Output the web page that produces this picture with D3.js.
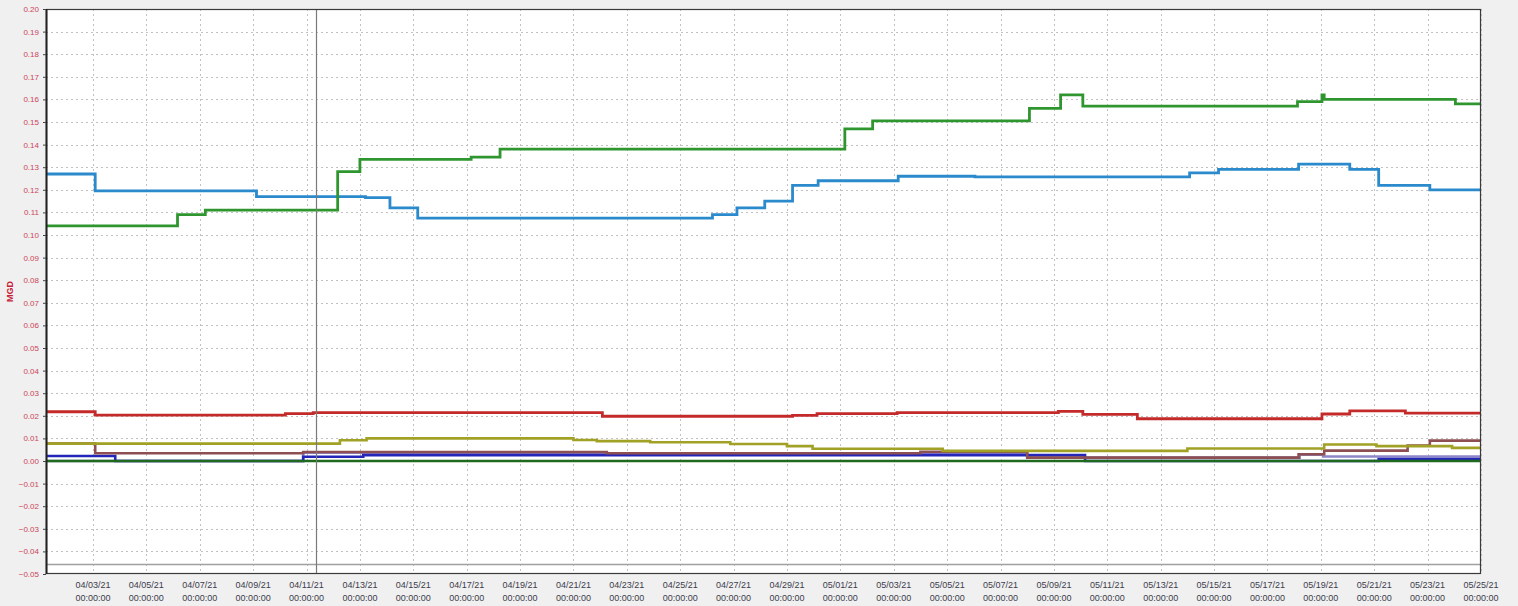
<!DOCTYPE html>
<html>
<head>
<meta charset="utf-8">
<script src="https://cdn.jsdelivr.net/npm/d3@7"></script>
<style>
  html, body { margin: 0; padding: 0; background: #f0f0f0; }
  svg { display: block; font-family: "Liberation Sans", Arial, sans-serif; }
</style>
</head>
<body>
<svg id="chart" width="1518" height="606"></svg>
<script>
// time range shown and the two-day tick labels
var seriesStart = "04/01 05:45";
var seriesEnd = "05/25 00:00";
var tickDates = ["04/03", "04/05", "04/07", "04/09", "04/11", "04/13", "04/15", "04/17",
  "04/19", "04/21", "04/23", "04/25", "04/27", "04/29", "05/01", "05/03", "05/05",
  "05/07", "05/09", "05/11", "05/13", "05/15", "05/17", "05/19", "05/21", "05/23", "05/25"];
var yTicks = d3.range(-5, 21).map(function (d) { return d / 100; });
var cursorDate = "04/11 08:30";
var refLineValue = -0.0455;

// step series: [change time, new value]
var greenTop = [
  ["04/01 05:45", 0.104], ["04/06 04:00", 0.109], ["04/07 05:00", 0.111], ["04/12 04:00", 0.128],
  ["04/13 00:00", 0.1335], ["04/17 04:00", 0.1345], ["04/18 06:00", 0.138], ["05/01 04:00", 0.147],
  ["05/02 05:00", 0.1505], ["05/08 02:00", 0.156], ["05/09 06:00", 0.162], ["05/10 02:00", 0.157],
  ["05/18 03:00", 0.159], ["05/19 01:00", 0.162], ["05/19 03:00", 0.160], ["05/24 01:00", 0.158]
];
var blueFlow = [
  ["04/01 05:45", 0.127], ["04/03 02:00", 0.1195], ["04/09 03:00", 0.117], ["04/13 05:00", 0.1165],
  ["04/14 03:00", 0.112], ["04/15 04:00", 0.1075], ["04/26 05:00", 0.109], ["04/27 03:00", 0.112],
  ["04/28 04:00", 0.115], ["04/29 05:00", 0.122], ["04/30 04:00", 0.124], ["05/03 04:00", 0.126],
  ["05/06 01:00", 0.1257], ["05/14 02:00", 0.1275], ["05/15 04:00", 0.129], ["05/18 04:00", 0.1314],
  ["05/20 02:00", 0.129], ["05/21 04:00", 0.122], ["05/23 02:00", 0.120]
];
var redFlow = [
  ["04/01 05:45", 0.0218], ["04/03 02:00", 0.0203], ["04/10 05:00", 0.0210], ["04/11 06:00", 0.0214],
  ["04/22 02:00", 0.0198], ["04/29 05:00", 0.0202], ["04/30 03:00", 0.0210], ["05/03 03:00", 0.0214],
  ["05/09 04:00", 0.0220], ["05/10 02:00", 0.0206], ["05/12 03:00", 0.0187], ["05/19 01:00", 0.0208],
  ["05/20 02:00", 0.0222], ["05/22 04:00", 0.0212]
];
var oliveFlow = [
  ["04/01 05:45", 0.0077], ["04/12 06:00", 0.0092], ["04/13 06:00", 0.0100], ["04/21 00:00", 0.0093],
  ["04/21 21:00", 0.0088], ["04/23 21:00", 0.0083], ["04/26 21:00", 0.0075], ["04/29 00:00", 0.0066],
  ["04/29 23:00", 0.0054], ["05/04 20:00", 0.0045], ["05/14 00:00", 0.0055], ["05/19 03:00", 0.0073],
  ["05/21 02:00", 0.0066], ["05/23 22:00", 0.0058]
];
var brownFlow = [
  ["04/01 05:45", 0.0077], ["04/03 02:00", 0.0034], ["04/10 21:00", 0.0040], ["04/22 06:00", 0.0034],
  ["05/04 00:00", 0.0041], ["05/08 00:00", 0.0015], ["05/18 04:00", 0.0030], ["05/19 03:00", 0.0046],
  ["05/22 06:00", 0.0068], ["05/23 02:00", 0.0090]
];
var purpleFlow = [
  ["04/01 05:45", 0.0], ["04/10 21:00", 0.0037], ["04/22 06:00", 0.0030], ["05/04 00:00", 0.0035],
  ["05/08 00:00", 0.0015], ["05/18 05:00", 0.0028], ["05/19 02:00", 0.0020]
];
var navyFlow = [
  ["04/01 05:45", 0.0022], ["04/03 20:00", 0.0], ["04/10 21:00", 0.0019], ["04/13 03:00", 0.0026],
  ["05/10 04:00", 0.0], ["05/21 04:00", 0.0009]
];
var baseFlow = [["04/01 05:45", 0.0]];

var seriesList = [
  { values: purpleFlow, color: "#8f86c8", width: 2.6 },
  { values: navyFlow, color: "#2326b8", width: 2.6 },
  { values: baseFlow, color: "#1f6a1f", width: 2.6 },
  { values: brownFlow, color: "#8e4f52", width: 2.6 },
  { values: oliveFlow, color: "#a1a126", width: 2.6 },
  { values: redFlow, color: "#c42a2a", width: 2.8 },
  { values: blueFlow, color: "#2a8acb", width: 2.8 },
  { values: greenTop, color: "#2f962f", width: 2.8 }
];

var parseT = d3.timeParse("%Y/%m/%d %H:%M");
function t(s) { return parseT("2021/" + s); }

var svg = d3.select("#chart");
var plotLeft = 46, plotRight = 1481, plotTop = 9, plotBottom = 574;

var x = d3.scaleTime().domain([t(seriesStart), t(seriesEnd)]).range([plotLeft, plotRight]);
var y = d3.scaleLinear().domain([-0.05, 0.20]).range([plotBottom, plotTop]);

svg.append("rect").attr("x", plotLeft).attr("y", plotTop)
  .attr("width", plotRight - plotLeft).attr("height", plotBottom - plotTop).attr("fill", "#ffffff");

// grid
var grid = svg.append("g").attr("stroke", "#c2c2c2").attr("stroke-width", 1).attr("stroke-dasharray", "2,3");
grid.selectAll(".hg").data(yTicks.slice(1, -1)).enter().append("line")
  .attr("x1", plotLeft).attr("x2", plotRight)
  .attr("y1", function (d) { return Math.round(y(d)) + 0.5; })
  .attr("y2", function (d) { return Math.round(y(d)) + 0.5; });
grid.selectAll(".vg").data(tickDates).enter().append("line")
  .attr("x1", function (d) { return Math.round(x(t(d + " 00:00"))) + 0.5; })
  .attr("x2", function (d) { return Math.round(x(t(d + " 00:00"))) + 0.5; })
  .attr("y1", plotTop).attr("y2", plotBottom);

// reference line near the bottom
svg.append("line").attr("x1", plotLeft).attr("x2", plotRight)
  .attr("y1", Math.round(y(refLineValue)) + 0.5).attr("y2", Math.round(y(refLineValue)) + 0.5)
  .attr("stroke", "#a0a0a0").attr("stroke-width", 1.5);

// series
var line = d3.line()
  .x(function (d) { return x(d[0]); })
  .y(function (d) { return y(d[1]); })
  .curve(d3.curveStepAfter);

seriesList.forEach(function (s) {
  var pts = s.values.map(function (p) { return [t(p[0]), p[1]]; });
  pts.push([t(seriesEnd), s.values[s.values.length - 1][1]]);
  svg.append("path").datum(pts)
    .attr("d", line)
    .attr("fill", "none")
    .attr("stroke", s.color)
    .attr("stroke-width", s.width);
});

// cursor line
svg.append("line")
  .attr("x1", Math.round(x(t(cursorDate))) + 0.5).attr("x2", Math.round(x(t(cursorDate))) + 0.5)
  .attr("y1", plotTop).attr("y2", plotBottom)
  .attr("stroke", "#7a7a7a").attr("stroke-width", 1.2);

// frame
svg.append("rect").attr("x", plotLeft + 0.5).attr("y", plotTop + 0.5)
  .attr("width", plotRight - plotLeft - 1).attr("height", plotBottom - plotTop - 1)
  .attr("fill", "none").attr("stroke", "#3a3a3a").attr("stroke-width", 1.2);
svg.append("line").attr("x1", plotLeft + 0.5).attr("x2", plotLeft + 0.5).attr("y1", plotTop).attr("y2", plotBottom)
  .attr("stroke", "#222").attr("stroke-width", 2);

// y axis
var yAxis = svg.append("g").attr("transform", "translate(" + plotLeft + ",0)")
  .call(d3.axisLeft(y).tickValues(yTicks).tickFormat(d3.format(".2f")).tickSize(3).tickPadding(4));
yAxis.select(".domain").remove();
yAxis.selectAll(".tick line").attr("stroke", "#444");
yAxis.selectAll("text").attr("fill", "#cc4458").attr("font-size", "8px");

svg.append("text")
  .attr("transform", "translate(13," + y(0.075) + ") rotate(-90)")
  .attr("text-anchor", "middle")
  .attr("fill", "#c8203a").attr("font-size", "9px").attr("font-weight", "bold")
  .text("MGD");

// x axis labels (two lines)
var xLab = svg.append("g");
var xl = xLab.selectAll(".xl").data(tickDates).enter().append("text")
  .attr("x", function (d) { return x(t(d + " 00:00")); })
  .attr("text-anchor", "middle")
  .attr("fill", "#3c3c4c").attr("font-size", "9px");
xl.append("tspan").attr("y", 588).text(function (d) { return d + "/21"; });
xl.append("tspan").attr("x", function (d) { return x(t(d + " 00:00")); }).attr("y", 601).text("00:00:00");
</script>
</body>
</html>
